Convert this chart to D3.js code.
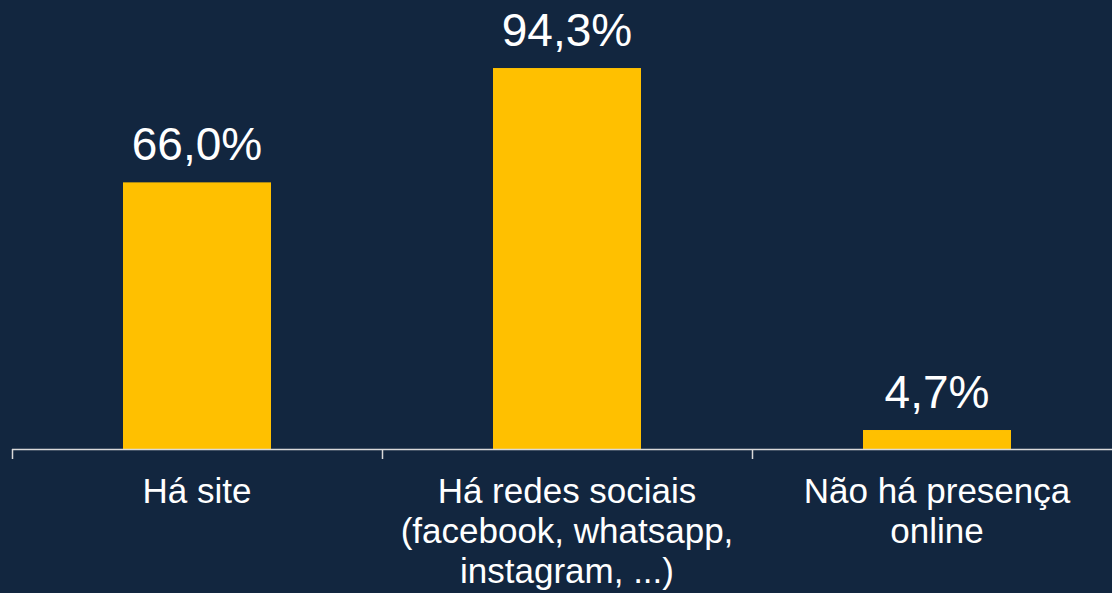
<!DOCTYPE html>
<html>
<head>
<meta charset="utf-8">
<script src="https://cdn.jsdelivr.net/npm/d3@7"></script>
<style>
  html, body { margin: 0; padding: 0; background: #12263f; }
  svg { display: block; }
</style>
</head>
<body>
<div id="chart"></div>
<script>
var categories = [
  ["Há site"],
  ["Há redes sociais", "(facebook, whatsapp,", "instagram, ...)"],
  ["Não há presença", "online"]
];
var values = [66.0, 94.3, 4.7];
var valueLabels = ["66,0%", "94,3%", "4,7%"];

var width = 1112, height = 593;
var baseY = 449;

var svg = d3.select("#chart").append("svg")
  .attr("width", width).attr("height", height);

svg.append("rect").attr("width", width).attr("height", height).attr("fill", "#12263f");

var x = d3.scaleBand()
  .domain(d3.range(categories.length))
  .range([12, 1122])
  .paddingInner(0.6)
  .paddingOuter(0.3);

// step used for tick marks at band edges
var step = x.step();

var y = d3.scaleLinear()
  .domain([0, 100])
  .range([baseY, baseY - 404]);

var g = svg.append("g");

g.selectAll(".bar")
  .data(values)
  .enter().append("rect")
  .attr("class", "bar")
  .attr("x", (d, i) => x(i))
  .attr("y", d => y(d))
  .attr("width", x.bandwidth())
  .attr("height", d => y(0) - y(d))
  .attr("fill", "#ffc000");

g.selectAll(".val")
  .data(values)
  .enter().append("text")
  .attr("class", "val")
  .attr("x", (d, i) => x(i) + x.bandwidth() / 2)
  .attr("y", d => y(d) - 22)
  .attr("text-anchor", "middle")
  .attr("fill", "#ffffff")
  .style("font-family", "'Liberation Sans', Arial, sans-serif")
  .style("font-size", "46px")
  .text((d, i) => valueLabels[i]);

// axis line and ticks
g.append("line")
  .attr("x1", 12).attr("x2", width)
  .attr("y1", y(0) + 0.5).attr("y2", y(0) + 0.5)
  .attr("stroke", "#d9d9d9").attr("stroke-width", 1.5);

g.selectAll(".tick")
  .data(d3.range(categories.length))
  .enter().append("line")
  .attr("class", "tick")
  .attr("x1", i => x(i) - step * 0.3 + 0.5)
  .attr("x2", i => x(i) - step * 0.3 + 0.5)
  .attr("y1", y(0)).attr("y2", y(0) + 10)
  .attr("stroke", "#d9d9d9").attr("stroke-width", 1.5);

var cat = g.selectAll(".cat")
  .data(categories)
  .enter().append("text")
  .attr("class", "cat")
  .attr("text-anchor", "middle")
  .attr("fill", "#ffffff")
  .style("font-family", "'Liberation Sans', Arial, sans-serif")
  .style("font-size", "35px");

cat.each(function(lines, i) {
  var t = d3.select(this);
  lines.forEach(function(line, j) {
    t.append("tspan")
      .attr("x", x(i) + x.bandwidth() / 2)
      .attr("y", 503 + j * 40)
      .text(line);
  });
});
</script>
</body>
</html>
